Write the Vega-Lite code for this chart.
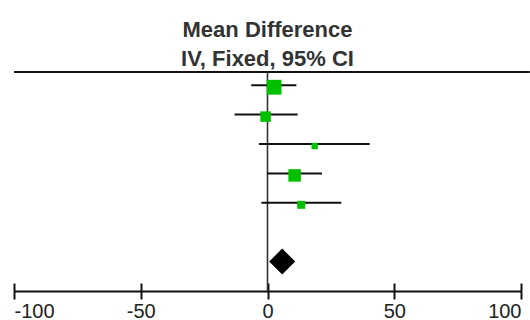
{
  "$schema": "https://vega.github.io/schema/vega-lite/v6.json",
  "width": 507,
  "height": 219,
  "autosize": {"type": "none"},
  "padding": {"left": 14, "top": 72, "right": 9, "bottom": 29},
  "background": "white",
  "config": {"view": {"stroke": null}},
  "title": {
    "text": ["Mean Difference", "IV, Fixed, 95% CI"],
    "anchor": "middle",
    "font": "Liberation Sans",
    "fontSize": 22,
    "fontWeight": "bold",
    "color": "#333333",
    "lineHeight": 29,
    "baseline": "bottom",
    "offset": -22
  },
  "datasets": {
    "studies": [
      {"study": "Study 1", "row": 1, "md": 2.6, "lo": -6.4, "hi": 11.4, "weight": 37.2},
      {"study": "Study 2", "row": 2, "md": -0.75, "lo": -13.0, "hi": 11.9, "weight": 18.7},
      {"study": "Study 3", "row": 3, "md": 18.6, "lo": -3.4, "hi": 40.3, "weight": 6.8},
      {"study": "Study 4", "row": 4, "md": 10.7, "lo": -0.2, "hi": 21.5, "weight": 26.5},
      {"study": "Study 5", "row": 5, "md": 13.3, "lo": -2.4, "hi": 29.1, "weight": 10.9}
    ],
    "total": [
      {"study": "Total", "row": 7, "md": 5.8, "lo": 0.7, "hi": 10.9}
    ],
    "null_effect": [
      {"md": 0}
    ]
  },
  "resolve": {"axis": {"x": "independent"}},
  "layer": [
    {
      "data": {"name": "null_effect"},
      "mark": {"type": "rule", "color": "#333333", "strokeWidth": 1.6},
      "encoding": {
        "x": {
          "field": "md",
          "type": "quantitative",
          "scale": {"domain": [-100, 100], "nice": false, "zero": false},
          "axis": {
            "orient": "bottom",
            "values": [-100, -50, 0, 50, 100],
            "labelExpr": "datum.value + ''",
            "title": null,
            "grid": false,
            "domain": true,
            "domainColor": "#111111",
            "domainWidth": 2,
            "ticks": true,
            "tickSize": 8,
            "tickWidth": 2,
            "tickColor": "#111111",
            "labelFlush": true,
            "labelFont": "Liberation Sans",
            "labelFontSize": 20,
            "labelColor": "#222222",
            "labelPadding": 2
          }
        }
      }
    },
    {
      "data": {"name": "studies"},
      "mark": {"type": "rule", "color": "#111111", "strokeWidth": 2},
      "encoding": {
        "x": {
          "field": "lo",
          "type": "quantitative",
          "axis": {
            "orient": "bottom",
            "values": [-100, -50, 0, 50, 100],
            "title": null,
            "grid": false,
            "domain": false,
            "labels": false,
            "ticks": true,
            "tickSize": -8,
            "tickWidth": 2,
            "tickColor": "#111111"
          }
        },
        "x2": {"field": "hi"},
        "y": {
          "field": "row",
          "type": "quantitative",
          "scale": {"domain": [0.55, 8], "reverse": true, "nice": false, "zero": false},
          "axis": null
        }
      }
    },
    {
      "data": {"name": "studies"},
      "mark": {"type": "point", "shape": "square", "filled": true, "opacity": 1, "color": "#00c000", "yOffset": 2},
      "encoding": {
        "x": {"field": "md", "type": "quantitative", "axis": null},
        "y": {"field": "row", "type": "quantitative", "axis": null},
        "size": {
          "field": "weight",
          "type": "quantitative",
          "scale": {"domain": [0, 100], "range": [0, 589]},
          "legend": null
        }
      }
    },
    {
      "data": {"name": "total"},
      "mark": {"type": "point", "shape": "diamond", "filled": true, "opacity": 1, "color": "#000000", "size": 676},
      "encoding": {
        "x": {"field": "md", "type": "quantitative", "axis": null},
        "y": {"field": "row", "type": "quantitative", "axis": null}
      }
    },
    {
      "data": {"name": "total"},
      "mark": {"type": "rule", "color": "#111111", "strokeWidth": 2},
      "encoding": {
        "x": {"datum": -100, "type": "quantitative", "axis": null},
        "x2": {"datum": 103.5},
        "y": {"datum": 0.55, "type": "quantitative", "axis": null}
      }
    }
  ]
}
